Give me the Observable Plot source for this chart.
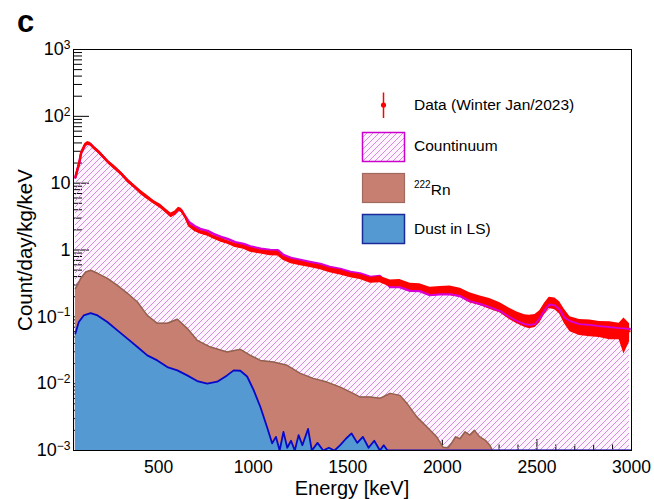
<!DOCTYPE html>
<html><head><meta charset="utf-8">
<script src="https://cdn.jsdelivr.net/npm/d3@7"></script>
<script src="https://cdn.jsdelivr.net/npm/@observablehq/plot@0.6"></script>
<style>
body{margin:0;background:#fff;}
#wrap{position:relative;width:654px;height:499px;font-family:"Liberation Sans",Arial,Helvetica,sans-serif;}
#wrap svg{position:absolute;left:0;top:0;}
</style></head><body><div id="wrap"></div>
<script>
// ---------- data ----------
const dataE = [60, 80, 90, 110, 125, 140, 155, 185, 210, 235, 265, 300, 335, 370, 405, 440, 475, 510, 540, 565, 585, 605, 620, 640, 660, 690, 720, 760, 790, 830, 865, 905, 950, 985, 1040, 1090, 1130, 1160, 1200, 1250, 1300, 1355, 1405, 1460, 1515, 1565, 1620, 1670, 1725, 1775, 1830, 1880, 1935, 1990, 2040, 2095, 2145, 2200, 2250, 2305, 2355, 2395, 2435, 2460, 2490, 2515, 2540, 2565, 2595, 2620, 2645, 2675, 2725, 2780, 2830, 2885, 2935, 2960, 2990];
const dataV = [12.2, 19.9, 28.0, 36.9, 39.5, 38.2, 34.5, 29.0, 24.4, 20.5, 17.3, 14.1, 11.0, 9.0, 7.3, 6.15, 5.18, 4.51, 3.80, 3.30, 3.54, 4.07, 3.93, 3.19, 2.34, 2.04, 1.84, 1.72, 1.55, 1.40, 1.30, 1.17, 1.10, 1.01, 0.933, 0.893, 0.885, 0.751, 0.678, 0.632, 0.590, 0.551, 0.497, 0.463, 0.418, 0.397, 0.352, 0.364, 0.317, 0.317, 0.279, 0.277, 0.241, 0.249, 0.249, 0.233, 0.196, 0.177, 0.159, 0.139, 0.113, 0.0985, 0.0887, 0.0858, 0.0887, 0.102, 0.134, 0.165, 0.159, 0.139, 0.105, 0.080, 0.072, 0.070, 0.067, 0.065, 0.0628, 0.062, 0.0607];
const dataErr = [0.08, 0.07, 0.06, 0.06, 0.06, 0.06, 0.06, 0.06, 0.06, 0.06, 0.07, 0.06, 0.07, 0.06, 0.07, 0.07, 0.06, 0.07, 0.07, 0.08,
  0.07, 0.07, 0.07, 0.07, 0.06, 0.07, 0.06, 0.07, 0.06, 0.07, 0.06, 0.07, 0.07, 0.08, 0.07, 0.08, 0.08, 0.07, 0.08, 0.08, 0.07, 0.08, 0.08, 0.09, 0.08,
  0.09, 0.10, 0.11, 0.12, 0.14, 0.14, 0.13, 0.15, 0.14,
  0.16, 0.15, 0.17, 0.16, 0.18, 0.17, 0.19, 0.20,
  0.21, 0.23, 0.22, 0.21, 0.19, 0.19, 0.20, 0.21, 0.24, 0.25,
  0.27, 0.28, 0.27, 0.30, 0.28, 0.55, 0.30];
const contE = dataE;
const contV = [12.2, 19.9, 28.0, 36.9, 39.5, 38.2, 34.5, 29.0, 24.4, 20.5, 17.3, 14.1, 11.0, 9.0, 7.3, 6.15, 5.18, 4.51, 3.80, 3.30, 3.54, 4.07, 3.93, 3.19,
  2.62, 2.28, 2.06, 1.93, 1.74, 1.57, 1.46, 1.31, 1.23, 1.13, 1.045, 1.0, 0.99, 0.84, 0.76, 0.708, 0.661, 0.617, 0.557, 0.519, 0.468, 0.445, 0.394, 0.408,
  0.279, 0.279, 0.246, 0.244, 0.212, 0.219, 0.219, 0.205, 0.172, 0.156, 0.140, 0.122, 0.0994, 0.0867, 0.078, 0.0755, 0.078,
  0.0949, 0.125, 0.153, 0.148, 0.129, 0.0977,
  0.0864, 0.0778, 0.0756, 0.0724, 0.0702, 0.0678, 0.067, 0.0656];
const rnE = [60, 89, 115, 141, 177, 229, 282, 335, 388, 440, 493, 546, 599, 651, 704, 774, 862, 932, 985, 1038, 1107, 1179, 1249, 1317, 1390, 1460, 1528, 1565, 1618, 1671, 1724, 1776, 1813, 1866, 1919, 1971, 2003, 2030, 2050, 2070, 2093, 2120, 2145, 2170, 2198, 2230, 2251, 2265, 2280, 3000];
const rnV = [0.264, 0.377, 0.469, 0.497, 0.448, 0.377, 0.296, 0.225, 0.167, 0.105, 0.080, 0.080, 0.0918, 0.0673, 0.0445, 0.0353, 0.0297, 0.0326, 0.0265, 0.0223, 0.0211, 0.0188, 0.01426, 0.0120, 0.01056, 0.00889, 0.00716, 0.0063, 0.0063, 0.00603, 0.00716, 0.00668, 0.00507, 0.00316, 0.00224, 0.00159, 0.00112, 0.0011, 0.0013, 0.0016, 0.0015, 0.0019, 0.0017, 0.0020, 0.0016, 0.0014, 0.0012, 0.001, 0.001, 0.001];
const dustE = [60, 78, 104, 141, 177, 229, 282, 335, 388, 440, 493, 546, 599, 651, 704, 757, 810, 862, 897, 932, 968, 1003, 1038, 1073, 1100, 1120, 1140, 1160, 1180, 1200, 1220, 1240, 1260, 1290, 1310, 1340, 1370, 1400, 1430, 1460, 1490, 1520, 1550, 1580, 1610, 1640, 1670, 1690, 1710, 3000];
const dustV = [0.0561, 0.0836, 0.105, 0.114, 0.105, 0.0836, 0.0628, 0.0472, 0.0353, 0.0265, 0.0223, 0.01774, 0.0158, 0.0133, 0.01094, 0.0100, 0.0107, 0.0133, 0.0158, 0.0156, 0.0128, 0.00794, 0.00447, 0.00224, 0.00128, 0.0016, 0.001, 0.0019, 0.0011, 0.0014, 0.001, 0.0017, 0.0012, 0.0021, 0.001, 0.0013, 0.001, 0.0011, 0.001, 0.0012, 0.0015, 0.0018, 0.0013, 0.0016, 0.0011, 0.0014, 0.001, 0.0012, 0.001, 0.001];

const xMajor = [500, 1000, 1500, 2000, 2500, 3000];
const xTickLabels = ["500", "1000", "1500", "2000", "2500", "3000"];
const yMajor = [1e-3, 1e-2, 1e-1, 1, 10, 100, 1000];
const yTickLabels = ["10^\u22123", "10^\u22122", "10^\u22121", "1", "10", "10^2", "10^3"];
const seriesNames = ["Data (Winter Jan/2023)", "Countinuum", "Rn", "Dust in LS)"];

// ---------- tables ----------
const data = dataE.map((E, i) => ({E, v: dataV[i], lo: dataV[i] * (1 - dataErr[i]), hi: dataV[i] * (1 + dataErr[i])}));
const cont = contE.map((E, i) => ({E, v: contV[i]}));
const rn = rnE.map((E, i) => ({E, v: rnV[i]}));
const dust = dustE.map((E, i) => ({E, v: dustV[i]}));
const yMinor = [];
for (let k = -3; k <= 2; k++) for (let m = 2; m <= 9; m++) yMinor.push(+(m * Math.pow(10, k)).toPrecision(3));
const xMinor = d3.range(100, 3001, 100).filter(d => d % 500 !== 0);
const xLab = new Map(xMajor.map((d, i) => [d, xTickLabels[i]]));
const yLab = new Map(yMajor.map((d, i) => [d, yTickLabels[i]]));

const RED = "#ff0000", MAG = "#d800d8", RNF = "#c77f72", RNE = "#93604f", DUF = "#5599d3", DUE = "#0808c8";
const HATCH = "#d88de4", HATCHBG = "#fdf4fd";
const bottom = () => 1e-3;

const svg = Plot.plot({
  width: 654, height: 499,
  marginLeft: 73, marginRight: 23, marginTop: 49, marginBottom: 49,
  style: {fontFamily: "'Liberation Sans', Arial, Helvetica, sans-serif", background: "transparent", color: "#000"},
  x: {domain: [50, 3000]},
  y: {type: "log", domain: [1e-3, 1e3]},
  marks: [
    Plot.areaY(cont, {x: "E", y1: bottom, y2: "v", fill: HATCHBG, clip: true}),
    Plot.frame({stroke: "#000", strokeWidth: 1}),
    Plot.axisY(yMajor, {anchor: "left", tickSize: -16, tickFormat: () => "", label: null}),
    Plot.axisY(yMinor, {anchor: "left", tickSize: -9, tickFormat: () => "", label: null}),
    Plot.axisX(xMajor, {anchor: "bottom", tickSize: -11, tickFormat: () => "", label: null}),
    Plot.axisX(xMinor, {anchor: "bottom", tickSize: -5.5, tickFormat: () => "", label: null}),
    Plot.areaY(rn, {x: "E", y1: bottom, y2: "v", fill: RNF, clip: true}),
    Plot.line(rn, {x: "E", y: "v", stroke: RNE, strokeWidth: 1.5, clip: true}),
    Plot.areaY(dust, {x: "E", y1: bottom, y2: "v", fill: DUF, clip: true}),
    Plot.line(dust, {x: "E", y: "v", stroke: DUE, strokeWidth: 1.8, clip: true}),
    Plot.line(cont, {x: "E", y: "v", stroke: MAG, strokeWidth: 2.6, clip: true}),
    Plot.areaY(data, {x: "E", y1: "lo", y2: "hi", fill: RED, clip: true}),
    Plot.line(data, {x: "E", y: "v", stroke: RED, strokeWidth: 2, clip: true}),
    Plot.line(cont.filter(d => d.E >= 1700), {x: "E", y: "v", stroke: MAG, strokeWidth: 1.8, clip: true}),
    Plot.axisY(yMajor, {anchor: "left", tickSize: 0, tickPadding: 3, tickFormat: d => yLab.get(d), fontSize: 18, label: null}),
    Plot.axisX(xMajor, {anchor: "bottom", tickSize: 0, tickPadding: 10, tickFormat: d => xLab.get(d), fontSize: 17.5, label: null})
  ]
});

const NS = "http://www.w3.org/2000/svg";
// hatching of the continuum area: diagonal lines clipped to the area drawn by Plot
const root = d3.select(svg);
const defs = root.insert("defs", ":first-child");
const areaG = root.select('g[aria-label="area"]').node();
const areaPath = areaG.querySelector("path");
const cp = defs.append("clipPath").attr("id", "contClip").append("path").attr("d", areaPath.getAttribute("d"));
if (areaG.getAttribute("transform")) cp.attr("transform", areaG.getAttribute("transform"));
// hatch lines go right after the ticks (before the Rn fill)
const rnG = root.selectAll('g[aria-label="area"]').nodes()[1];
const hg = document.createElementNS(NS, "g");
rnG.parentNode.insertBefore(hg, rnG);
function hatchLines(sel, x0, x1, y0, y1) {
  const h = y1 - y0;
  for (let k = x0 - h; k <= x1; k += 6) {
    sel.append("line").attr("x1", k).attr("y1", y1).attr("x2", k + h).attr("y2", y0);
  }
}
const hs = d3.select(hg).attr("clip-path", "url(#contClip)").attr("stroke", HATCH).attr("stroke-width", 1);
hatchLines(hs, 0, 654, 0, 499);

// superscripts for the log tick labels
root.selectAll('g[aria-label="y-axis tick label"] text').each(function () {
  const t = this.textContent;
  if (t.includes("^")) {
    const [b, e] = t.split("^");
    const s = d3.select(this);
    s.text(null);
    s.append("tspan").text(b);
    s.append("tspan").attr("font-size", 12).attr("dy", "-0.55em").text(e);
  }
});

const wrap = document.getElementById("wrap");
wrap.appendChild(svg);

// overlay: panel letter, axis titles, legend
const ov = d3.select(wrap).append("svg").attr("width", 654).attr("height", 499)
  .style("font-family", "'Liberation Sans', Arial, Helvetica, sans-serif").style("pointer-events", "none");
ov.append("defs").append("clipPath").attr("id", "legClip").append("rect")
  .attr("x", 362.5).attr("y", 132.5).attr("width", 42).attr("height", 29);
ov.append("text").attr("x", 17).attr("y", 32).attr("font-size", 31).attr("font-weight", "bold").text("c");
ov.append("text").attr("transform", "translate(32,250) rotate(-90)").attr("text-anchor", "middle")
  .attr("font-size", 20.5).text("Count/day/kg/keV");
ov.append("text").attr("x", 352).attr("y", 495).attr("text-anchor", "middle").attr("font-size", 20).text("Energy [keV]");

const lg = ov.append("g").attr("font-size", 15.5);
// data entry
lg.append("line").attr("x1", 383.5).attr("x2", 383.5).attr("y1", 92.5).attr("y2", 118).attr("stroke", RED).attr("stroke-width", 1.5);
lg.append("circle").attr("cx", 383.5).attr("cy", 105).attr("r", 2.6).attr("fill", RED);
lg.append("text").attr("x", 414).attr("y", 110).text(seriesNames[0]);
// continuum
lg.append("rect").attr("x", 362.5).attr("y", 132.5).attr("width", 42).attr("height", 29).attr("fill", HATCHBG);
const lh = lg.append("g").attr("clip-path", "url(#legClip)").attr("stroke", HATCH).attr("stroke-width", 1);
hatchLines(lh, 362, 405, 132, 162);
lg.append("rect").attr("x", 362.5).attr("y", 132.5).attr("width", 42).attr("height", 29).attr("fill", "none").attr("stroke", "#cc00cc").attr("stroke-width", 1.5);
lg.append("text").attr("x", 414).attr("y", 151).text(seriesNames[1]);
// Rn
lg.append("rect").attr("x", 362.5).attr("y", 173.5).attr("width", 42).attr("height", 29).attr("fill", RNF).attr("stroke", "#a06b5e").attr("stroke-width", 1.2);
const rt = lg.append("text").attr("x", 414).attr("y", 195);
rt.append("tspan").attr("font-size", 10).attr("dy", "-0.75em").text("222");
rt.append("tspan").attr("dy", "0.48em").text(seriesNames[2]);
// Dust
lg.append("rect").attr("x", 362.5).attr("y", 214.5).attr("width", 42).attr("height", 29).attr("fill", DUF).attr("stroke", "#1a2a9a").attr("stroke-width", 1.5);
lg.append("text").attr("x", 414).attr("y", 234).text(seriesNames[3]);
</script></body></html>
